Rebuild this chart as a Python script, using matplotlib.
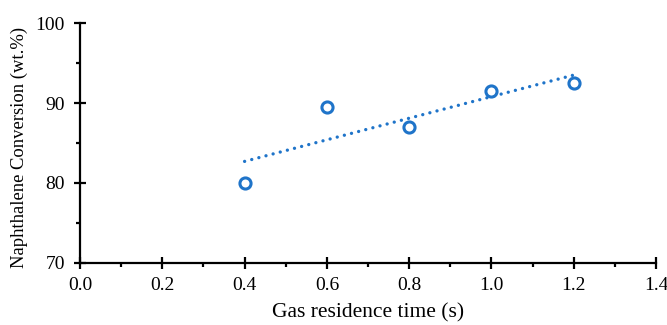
import matplotlib
matplotlib.use("Agg")
import matplotlib.pyplot as plt
import numpy as np
from matplotlib.ticker import MultipleLocator, FormatStrFormatter

residence_time = [0.4, 0.6, 0.8, 1.0, 1.2]
conversion = [80.0, 89.5, 87.0, 91.5, 92.5]
x_label = "Gas residence time (s)"
y_label = "Naphthalene Conversion (wt.%)"

plt.rcParams['font.family'] = 'serif'
plt.rcParams['font.serif'] = ['Liberation Serif', 'Times New Roman', 'DejaVu Serif']
color = '#1f74c9'

fig = plt.figure(figsize=(6.67, 3.25), dpi=100)
ax = fig.add_axes([0.12, 0.191, 0.8635, 0.738])

coef = np.polyfit(residence_time, conversion, 1)
xt = np.array([min(residence_time), max(residence_time)])
ax.plot(xt, np.polyval(coef, xt), linestyle=(0, (0.01, 2.2)), color=color, lw=2.4,
        dash_capstyle='round', solid_capstyle='round')
ax.plot(residence_time, conversion, 'o', markersize=8, markerfacecolor='white',
        markeredgecolor=color, markeredgewidth=2.2, linestyle='none')

ax.set_xlim(0, 1.4)
ax.set_ylim(70, 100)
ax.xaxis.set_major_locator(MultipleLocator(0.2))
ax.xaxis.set_minor_locator(MultipleLocator(0.1))
ax.yaxis.set_major_locator(MultipleLocator(10))
ax.yaxis.set_minor_locator(MultipleLocator(5))
ax.xaxis.set_major_formatter(FormatStrFormatter('%.1f'))
for s in ['top', 'right']:
    ax.spines[s].set_visible(False)
for s in ['left', 'bottom']:
    ax.spines[s].set_linewidth(1.6)
ax.tick_params(which='major', direction='inout', length=8, width=1.6, labelsize=14, color='black')
ax.tick_params(axis='y', which='major', pad=7)
ax.tick_params(axis='x', which='major', pad=6)
ax.tick_params(which='minor', direction='out', length=3, width=1.6)
ax.set_xlabel(x_label, fontsize=15.5, labelpad=7)
ax.set_ylabel(y_label, fontsize=13.4)
ax.yaxis.set_label_coords(-0.09, 0.481)

fig.savefig("out.png", dpi=100)
